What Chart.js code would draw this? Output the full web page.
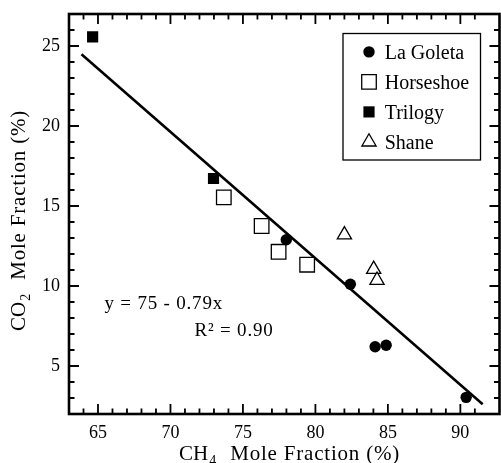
<!DOCTYPE html>
<html>
<head>
<meta charset="utf-8">
<script src="https://cdn.jsdelivr.net/npm/chart.js@4.4.1/dist/chart.umd.min.js"></script>
<style>
html,body{margin:0;padding:0;background:#fff;}
canvas{display:block;}
</style>
</head>
<body>
<canvas id="c" width="501" height="463"></canvas>
<script>
// ---- data ----
const seriesNames = ['La Goleta', 'Horseshoe', 'Trilogy', 'Shane'];
const laGoletaX  = [77.99, 82.41, 84.12, 84.88, 90.40];
const laGoletaY  = [12.89, 10.11, 6.20, 6.30, 3.04];
const horseshoeX = [73.68, 76.29, 77.46, 79.43];
const horseshoeY = [15.54, 13.75, 12.14, 11.33];
const trilogyX   = [64.63, 72.97];
const trilogyY   = [25.57, 16.72];
const shaneX     = [82.00, 84.02, 84.25];
const shaneY     = [13.20, 11.04, 10.36];
const fitX       = [63.86, 91.54];
const fitY       = [24.48, 2.61];
const xRange = [63, 92.7];
const yRange = [2, 27];
const majorStep = 5;
const minorStep = 1;
const xTitleMain = 'CH', xTitleSub = '4', xTitleRest = 'Mole Fraction (%)';
const yTitleMain = 'CO', yTitleSub = '2', yTitleRest = 'Mole Fraction (%)';
const eqText = 'y = 75 - 0.79x';
const r2Text = 'R\u00B2 = 0.90';
const eqPos = {x: 65.45, y: 8.54};
const r2Pos = {x: 71.66, y: 6.87};

const zip = (xs, ys) => xs.map((v, i) => ({x: v, y: ys[i]}));
const SERIF = '"Liberation Serif", "Times New Roman", serif';

const markers = [
  {pointStyle: 'circle',   radius: 5.7,  backgroundColor: '#000', borderColor: '#000', borderWidth: 0},
  {pointStyle: 'rect',     radius: 10.3, backgroundColor: '#fff', borderColor: '#000', borderWidth: 1.3},
  {pointStyle: 'rect',     radius: 7.9,  backgroundColor: '#000', borderColor: '#000', borderWidth: 0},
  {pointStyle: 'triangle', radius: 8.2,  backgroundColor: '#fff', borderColor: '#000', borderWidth: 1.3}
];
const seriesData = [zip(laGoletaX, laGoletaY), zip(horseshoeX, horseshoeY), zip(trilogyX, trilogyY), zip(shaneX, shaneY)];

const datasets = seriesNames.map((name, i) => ({
  label: name,
  data: seriesData[i],
  pointStyle: markers[i].pointStyle,
  pointRadius: markers[i].radius,
  pointHoverRadius: markers[i].radius,
  pointBackgroundColor: markers[i].backgroundColor,
  pointBorderColor: markers[i].borderColor,
  pointBorderWidth: markers[i].borderWidth,
  showLine: false
}));
datasets.push({
  label: 'fit',
  type: 'line',
  data: zip(fitX, fitY),
  borderColor: '#000',
  borderWidth: 2.6,
  pointRadius: 0,
  fill: false,
  showLine: true
});

function setSpacing(ctx, v) { if ('letterSpacing' in ctx) ctx.letterSpacing = v; }

const framePlugin = {
  id: 'frame',
  afterDatasetsDraw(chart) {
    const {ctx, chartArea: a, scales: {x, y}} = chart;
    ctx.save();
    ctx.strokeStyle = '#000';
    ctx.lineWidth = 1.8;
    ctx.beginPath();
    x.ticks.forEach(t => {
      if (!Number.isInteger(t.value)) return;
      const px = x.getPixelForValue(t.value);
      const len = t.value % majorStep === 0 ? 10 : 5.5;
      ctx.moveTo(px, a.bottom); ctx.lineTo(px, a.bottom - len);
      ctx.moveTo(px, a.top); ctx.lineTo(px, a.top + len);
    });
    y.ticks.forEach(t => {
      if (!Number.isInteger(t.value)) return;
      const py = y.getPixelForValue(t.value);
      const len = t.value % majorStep === 0 ? 10 : 5.5;
      ctx.moveTo(a.left, py); ctx.lineTo(a.left + len, py);
      ctx.moveTo(a.right, py); ctx.lineTo(a.right - len, py);
    });
    ctx.stroke();
    ctx.lineWidth = 2.6;
    ctx.strokeRect(a.left, a.top, a.right - a.left, a.bottom - a.top);
    ctx.restore();
  }
};

function drawTitle(ctx, main, sub, rest) {
  ctx.font = '21px ' + SERIF;
  setSpacing(ctx, '0px');
  ctx.fillText(main, 0, 0);
  let w = ctx.measureText(main).width;
  ctx.font = '14px ' + SERIF;
  ctx.fillText(sub, w + 1, 5);
  w += 1 + ctx.measureText(sub).width;
  ctx.font = '21px ' + SERIF;
  setSpacing(ctx, '0.8px');
  ctx.fillText(rest, w + 14, 0);
  setSpacing(ctx, '0px');
}

const textPlugin = {
  id: 'texts',
  afterDraw(chart) {
    const {ctx, chartArea: a, scales: {x, y}} = chart;
    ctx.save();
    ctx.fillStyle = '#000';
    ctx.textBaseline = 'alphabetic';
    ctx.textAlign = 'left';
    // x title
    ctx.save();
    ctx.translate(179, 460);
    drawTitle(ctx, xTitleMain, xTitleSub, xTitleRest);
    ctx.restore();
    // y title
    ctx.save();
    ctx.translate(25, 331);
    ctx.rotate(-Math.PI / 2);
    drawTitle(ctx, yTitleMain, yTitleSub, yTitleRest);
    ctx.restore();
    // annotations
    ctx.font = '19px ' + SERIF;
    setSpacing(ctx, '0.8px');
    ctx.fillText(eqText, x.getPixelForValue(eqPos.x), y.getPixelForValue(eqPos.y));
    ctx.fillText(r2Text, x.getPixelForValue(r2Pos.x), y.getPixelForValue(r2Pos.y));
    setSpacing(ctx, '0px');
    // legend
    const bx = a.right - 156.5, by = a.top + 19.5, bw = 137.5, bh = 126.5;
    ctx.lineWidth = 1.3;
    ctx.strokeStyle = '#000';
    ctx.strokeRect(bx, by, bw, bh);
    ctx.font = '20px ' + SERIF;
    seriesNames.forEach((name, i) => {
      const cy = by + 18.4 + i * 30;
      const cx = bx + 26;
      const m = markers[i];
      ctx.fillStyle = m.backgroundColor;
      ctx.strokeStyle = m.borderColor;
      ctx.lineWidth = m.borderWidth;
      Chart.helpers.drawPoint(ctx, {pointStyle: m.pointStyle, radius: m.radius, rotation: 0, borderWidth: m.borderWidth}, cx, cy);
      ctx.fillStyle = '#000';
      ctx.fillText(name, bx + 41.7, cy + 6.7);
    });
    ctx.restore();
  }
};

const tickCb = v => (v % majorStep === 0 ? String(v) : '');

new Chart(document.getElementById('c'), {
  type: 'scatter',
  data: {datasets},
  options: {
    responsive: false,
    animation: false,
    devicePixelRatio: 1,
    layout: {autoPadding: false, padding: {top: 14, right: 1.5, left: 0, bottom: 0}},
    plugins: {legend: {display: false}, tooltip: {enabled: false}},
    scales: {
      x: {
        type: 'linear', min: xRange[0], max: xRange[1],
        grid: {display: false, drawTicks: false},
        border: {display: false},
        ticks: {stepSize: minorStep, autoSkip: false, maxRotation: 0, minRotation: 0,
                color: '#000', font: {family: SERIF, size: 18}, padding: 8, callback: tickCb},
        afterFit(s) { s.height = 49; s.paddingLeft = 0; s.paddingRight = 0; }
      },
      y: {
        type: 'linear', min: yRange[0], max: yRange[1],
        grid: {display: false, drawTicks: false},
        border: {display: false},
        ticks: {stepSize: minorStep, autoSkip: false,
                color: '#000', font: {family: SERIF, size: 18}, padding: 9, callback: tickCb},
        afterFit(s) { s.width = 69; s.paddingTop = 0; s.paddingBottom = 0; }
      }
    }
  },
  plugins: [framePlugin, textPlugin]
});
</script>
</body>
</html>
